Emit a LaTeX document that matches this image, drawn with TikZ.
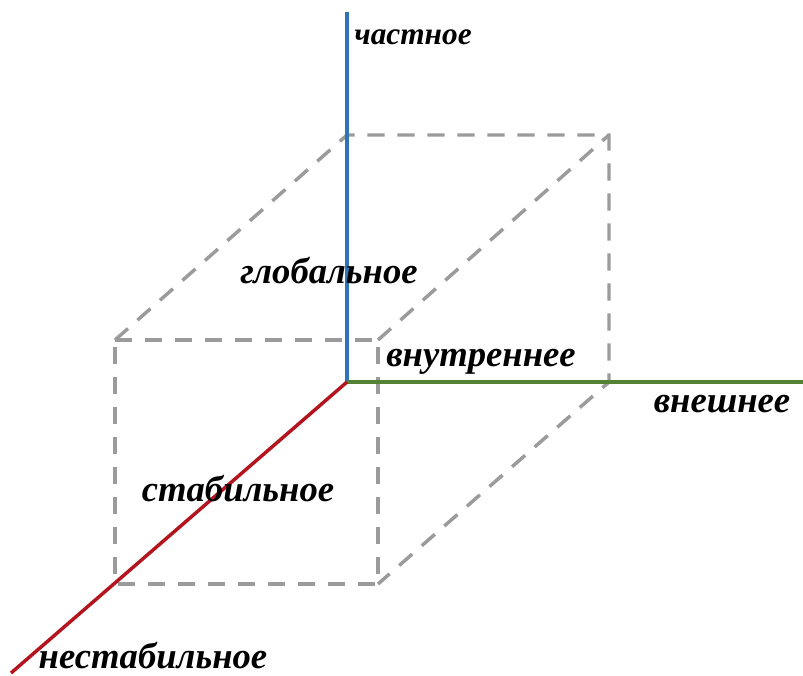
\documentclass[tikz,border=0pt]{standalone}
\usepackage{fontspec}
\setmainfont{Liberation Serif}
\usetikzlibrary{positioning}
\definecolor{axisblue}{RGB}{46,117,182}
\definecolor{axisgreen}{RGB}{84,130,53}
\definecolor{axisred}{RGB}{180,20,30}
\definecolor{cubegray}{RGB}{155,155,155}

\begin{document}
\begin{tikzpicture}[x=0.75pt,y=-0.75pt,
  edge/.style={draw=cubegray,line width=2.6pt,dash pattern=on 13pt off 9.5pt},
  axis/.style={line width=2.6pt},
  every node/.style={font=\fontsize{27.5}{32}\selectfont\bfseries\itshape,inner sep=0pt}]
\useasboundingbox (0,0) rectangle (803,675);
% cube corners
\coordinate (f1) at (115,340);
\coordinate (f2) at (378,340);
\coordinate (f3) at (378,584);
\coordinate (f4) at (115,584);
\coordinate (b1) at (347,135);
\coordinate (b2) at (609,135);
\coordinate (b3) at (609,382);
% axes
\coordinate (o) at (347,382);
\coordinate (top) at (347,12);
\coordinate (right) at (803,382);
\coordinate (low) at (11,673);
% dashed cube
\draw[edge] (f1) -- (f2) -- (f3) -- (f4) -- cycle;
\draw[edge] (f1) -- (b1) -- (b2) -- (b3) -- (f3);
\draw[edge] (f2) -- (b2);
\draw[axis,axisblue] (o) -- (top);
\draw[axis,axisgreen] (o) -- (right);
\draw[axis,axisred] (o) -- (low);
% labels
\node[font=\fontsize{23.5}{28}\selectfont\bfseries\itshape] (priv) at (413,37) {частное};
\node (glob) at (329,271) {глобальное};
\node (inner) at (481,362) {внутреннее};
\node (outer) at (722,404) {внешнее};
\node (stab) at (238,489) {стабильное};
\node (unstab) at (153,656) {нестабильное};
\end{tikzpicture}
\end{document}
